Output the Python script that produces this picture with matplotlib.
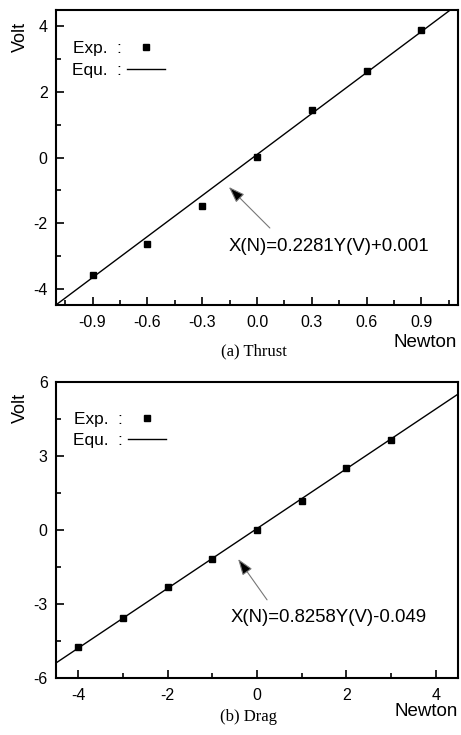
import matplotlib
matplotlib.use("Agg")
import matplotlib.pyplot as plt
from matplotlib.lines import Line2D
from matplotlib.ticker import MultipleLocator
import numpy as np

plt.rcParams['font.family'] = ['Liberation Sans', 'DejaVu Sans']

# ---- data ----
thrust_newton = [-0.9, -0.6, -0.3, 0.0, 0.3, 0.6, 0.9]
thrust_volt = [-3.57, -2.64, -1.49, 0.01, 1.45, 2.65, 3.89]
thrust_fit_slope = 4.17
thrust_fit_intercept = 0.09
thrust_equation = "X(N)=0.2281Y(V)+0.001"
thrust_xticks = [-0.9, -0.6, -0.3, 0.0, 0.3, 0.6, 0.9]
thrust_yticks = [-4, -2, 0, 2, 4]

drag_newton = [-4, -3, -2, -1, 0, 1, 2, 3]
drag_volt = [-4.76, -3.56, -2.33, -1.17, 0.0, 1.19, 2.51, 3.66]
drag_fit_slope = 1.211
drag_fit_intercept = 0.059
drag_equation = "X(N)=0.8258Y(V)-0.049"
drag_xticks = [-4, -2, 0, 2, 4]
drag_yticks = [-6, -3, 0, 3, 6]

W, H = 461, 735
fig = plt.figure(figsize=(W / 100, H / 100), dpi=100)

def axes_px(left, top, right, bottom):
    return fig.add_axes([left / W, 1 - bottom / H, (right - left) / W, (bottom - top) / H])

ax1 = axes_px(56, 10, 458, 305)
ax2 = axes_px(56, 382, 458, 678)

def style(ax, xlim, ylim, xticks, yticks, xminor, yminor, fmt):
    ax.set_xlim(*xlim)
    ax.set_ylim(*ylim)
    ax.set_xticks(xticks)
    ax.set_yticks(yticks)
    ax.set_xticklabels([fmt(t) for t in xticks])
    ax.set_yticklabels([f"{t:g}" for t in yticks])
    ax.xaxis.set_minor_locator(MultipleLocator(xminor))
    ax.yaxis.set_minor_locator(MultipleLocator(yminor))
    ax.tick_params(which='major', direction='in', length=6, width=1.2,
                   labelsize=11.5, pad=6)
    ax.tick_params(which='minor', direction='in', length=3.5, width=1.2)
    ax.tick_params(axis='x', which='major', pad=7)
    for s in ax.spines.values():
        s.set_linewidth(1.5)

def draw(ax, xs, ys, slope, intercept, xlim):
    lx = np.array(xlim)
    ax.plot(lx, slope * lx + intercept, color='black', lw=1.0,
            label="Equ.  :", zorder=2)
    ax.plot(xs, ys, linestyle='none', marker='s', ms=4.5, color='black',
            label="Exp.  :", zorder=3)

xl1, yl1 = (-1.1, 1.1), (-4.5, 4.5)
xl2, yl2 = (-4.5, 4.5), (-6, 6)

style(ax1, xl1, yl1, thrust_xticks, thrust_yticks, 0.15, 1,
      lambda t: f"{t:.1f}")
style(ax2, xl2, yl2, drag_xticks, drag_yticks, 1, 1.5,
      lambda t: f"{t:g}")

draw(ax1, thrust_newton, thrust_volt, thrust_fit_slope, thrust_fit_intercept, xl1)
draw(ax2, drag_newton, drag_volt, drag_fit_slope, drag_fit_intercept, xl2)

def legend(ax, anchor):
    handles = [Line2D([], [], linestyle='none', marker='s', ms=4.5, color='black'),
               Line2D([], [], color='black', lw=1.0)]
    ax.legend(handles, ["Exp.  :", "Equ.  :"], loc='upper left',
              bbox_to_anchor=anchor, frameon=False, markerfirst=False,
              fontsize=12.4, handlelength=2.2, handletextpad=0.3,
              labelspacing=0.38, borderaxespad=0, borderpad=0)

legend(ax1, (0.04, 0.895))
legend(ax2, (0.042, 0.9))

arrow = dict(arrowstyle='-|>,head_length=0.9,head_width=0.32',
             facecolor='black', edgecolor='#777777', lw=0.8,
             mutation_scale=11, shrinkA=0, shrinkB=0)

ax1.annotate("", xy=(0.430, 0.40), xycoords='axes fraction',
             xytext=(0.532, 0.261), textcoords='axes fraction', arrowprops=arrow)
ax1.text(0.679, 0.197, thrust_equation, transform=ax1.transAxes,
         ha='center', va='center', fontsize=13.4)

ax2.annotate("", xy=(0.453, 0.402), xycoords='axes fraction',
             xytext=(0.525, 0.264), textcoords='axes fraction', arrowprops=arrow)
ax2.text(0.678, 0.203, drag_equation, transform=ax2.transAxes,
         ha='center', va='center', fontsize=13.4)

for ax, ypos in ((ax1, 0.908), (ax2, 0.912)):
    ax.text(-0.088, ypos, "Volt", transform=ax.transAxes, rotation=90,
            ha='center', va='center', fontsize=13)

ax1.text(0.918, -0.128, "Newton", transform=ax1.transAxes,
         ha='center', va='center', fontsize=13.5)
ax2.text(0.921, -0.112, "Newton", transform=ax2.transAxes,
         ha='center', va='center', fontsize=13.5)

fig.text(254 / W, 1 - 351 / H, "(a) Thrust", ha='center', va='center',
         fontsize=12, family=['Liberation Serif', 'DejaVu Serif'])
fig.text(248 / W, 1 - 717 / H, "(b) Drag", ha='center', va='center',
         fontsize=12, family=['Liberation Serif', 'DejaVu Serif'])

fig.savefig("out.png", dpi=100)
